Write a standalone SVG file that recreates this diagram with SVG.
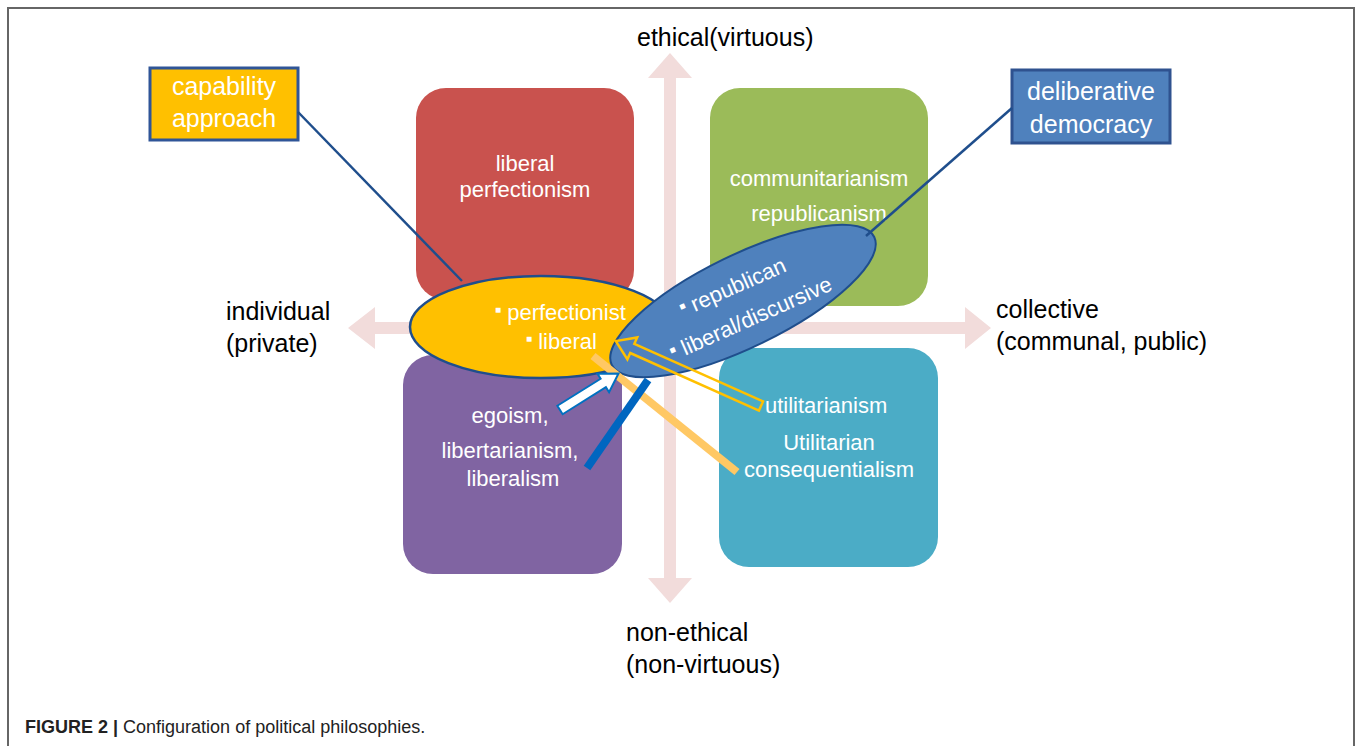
<svg xmlns="http://www.w3.org/2000/svg" width="1358" height="746" viewBox="0 0 1358 746">
<style>
.lbl{font-family:"Liberation Sans",Arial,sans-serif;font-size:25px;fill:#000}
.wt{font-family:"Liberation Sans",Arial,sans-serif;font-size:22px;fill:#fff}
.bx{font-family:"Liberation Sans",Arial,sans-serif;font-size:25px;fill:#fff;text-anchor:middle}
.ax{fill:#F2DCDB}
.quad{stroke:none}
.mid{text-anchor:middle}
.bul{font-size:10px}
</style>
<rect x="0" y="0" width="1358" height="746" fill="#fff"/>
<rect x="8" y="8" width="1346" height="780" fill="none" stroke="#666" stroke-width="2"/>

<g id="axes">
  <path class="ax" d="M664,78 L648,78 L670,53 L692,78 L676,78 L676,578 L692,578 L670,603 L648,578 L664,578 Z"/>
  <path class="ax" d="M375,322 L375,307 L348,328 L375,349 L375,334 L965,334 L965,349 L991,328 L965,307 L965,322 Z"/>
</g>

<g id="node-liberal-perfectionism">
  <rect class="quad" x="416" y="88" width="218" height="212" rx="30" fill="#C9524E"/>
  <text class="wt mid" x="525" y="171">liberal</text>
  <text class="wt mid" x="525" y="197">perfectionism</text>
</g>
<g id="node-communitarianism">
  <rect class="quad" x="710" y="88" width="218" height="218" rx="30" fill="#9BBB59"/>
  <text class="wt mid" x="819" y="186">communitarianism</text>
  <text class="wt mid" x="819" y="221">republicanism</text>
</g>
<g id="node-egoism">
  <rect class="quad" x="403" y="355" width="219" height="219" rx="30" fill="#8064A2"/>
  <text class="wt mid" x="510" y="423">egoism,</text>
  <text class="wt mid" x="510" y="458">libertarianism,</text>
  <text class="wt mid" x="513" y="486">liberalism</text>
</g>
<g id="node-utilitarianism">
  <rect class="quad" x="719" y="348" width="219" height="219" rx="30" fill="#4BACC6"/>
  <text class="wt" x="765" y="413">utilitarianism</text>
  <text class="wt mid" x="829" y="450">Utilitarian</text>
  <text class="wt mid" x="829" y="477">consequentialism</text>
</g>

<g id="node-axis-labels">
  <text class="lbl" x="637" y="46">ethical(virtuous)</text>
  <text class="lbl" x="226" y="320">individual</text>
  <text class="lbl" x="226" y="352">(private)</text>
  <text class="lbl" x="996" y="318">collective</text>
  <text class="lbl" x="996" y="350">(communal, public)</text>
  <text class="lbl" x="626" y="641">non-ethical</text>
  <text class="lbl" x="626" y="673">(non-virtuous)</text>
</g>

<g id="node-liberal-ellipse">
  <ellipse cx="541" cy="327" rx="131" ry="51" fill="#FFC000" stroke="#1F4E8C" stroke-width="2.5"/>
  <text class="wt" x="495" y="320"><tspan class="bul" dy="-7">■</tspan><tspan dy="7"> perfectionist</tspan></text>
  <text class="wt" x="526" y="349"><tspan class="bul" dy="-7">■</tspan><tspan dy="7"> liberal</tspan></text>
</g>

<g id="node-republican-ellipse">
  <ellipse cx="743" cy="301" rx="146" ry="46" transform="rotate(-26 743 301)" fill="#4F81BD" stroke="#1F4E8C" stroke-width="2"/>
  <g transform="translate(745,305) rotate(-24)">
    <text class="wt mid" x="-4" y="-14"><tspan class="bul" dy="-7">■</tspan><tspan dy="7"> republican</tspan></text>
    <text class="wt mid" x="0" y="22"><tspan class="bul" dy="-7">■</tspan><tspan dy="7"> liberal/discursive</tspan></text>
  </g>
</g>

<g id="node-capability">
  <rect x="150" y="68" width="148" height="72" fill="#FFC000" stroke="#2F5597" stroke-width="3"/>
  <text class="bx" x="224" y="95">capability</text>
  <text class="bx" x="224" y="127">approach</text>
</g>
<g id="node-deliberative">
  <rect x="1012" y="70" width="158" height="73" fill="#4F81BD" stroke="#2F528F" stroke-width="3"/>
  <text class="bx" x="1091" y="100">deliberative</text>
  <text class="bx" x="1091" y="133">democracy</text>
</g>

<g id="connectors">
  <line x1="298" y1="112" x2="462" y2="281" stroke="#1F4E8C" stroke-width="2.5"/>
  <line x1="866" y1="236" x2="1012" y2="108" stroke="#1F4E8C" stroke-width="2.5"/>
  <line x1="593" y1="356" x2="737" y2="472" stroke="#FFC864" stroke-width="8"/>
  <line x1="648" y1="380" x2="587" y2="468" stroke="#0066C0" stroke-width="8"/>
  <path transform="translate(560,410) rotate(-32)" d="M0,-5 L51,-5 L51,-11 L69,0 L51,11 L51,5 L0,5 Z" fill="#fff" stroke="#0070C0" stroke-width="2"/>
  <path transform="translate(761,406) rotate(-155.9)" d="M0,-5 L141,-5 L141,-12 L159,0 L141,12 L141,5 L0,5 Z" fill="none" stroke="#FFC000" stroke-width="2.5"/>
</g>

<text x="25" y="733" font-family="Liberation Sans,Arial,sans-serif" font-size="18" fill="#222"><tspan font-weight="bold">FIGURE 2 |</tspan> Configuration of political philosophies.</text>
</svg>
